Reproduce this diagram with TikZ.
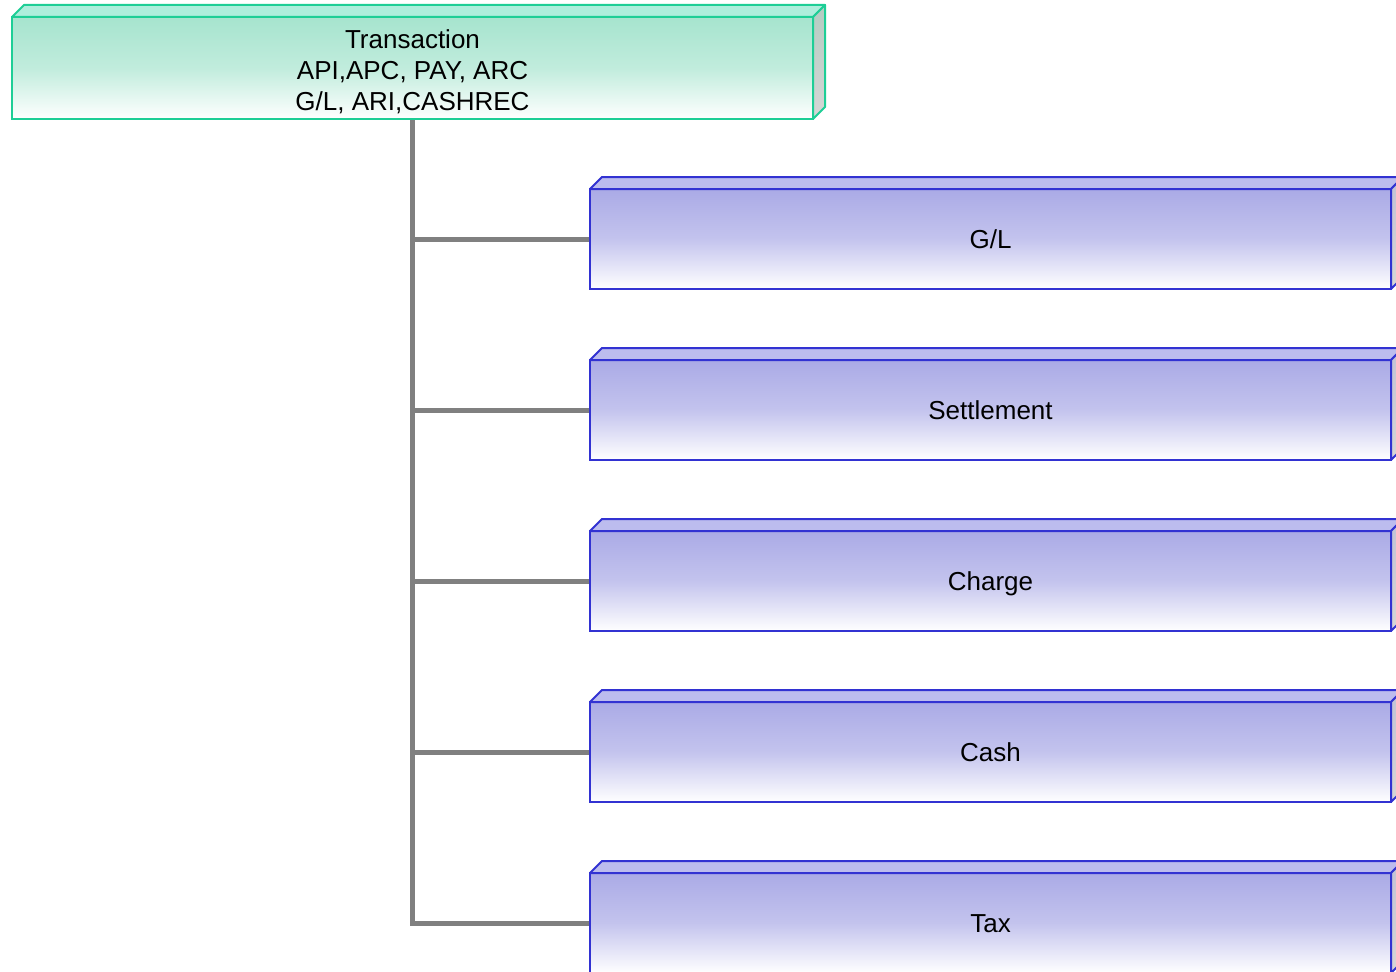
\documentclass[tikz,border=0pt]{standalone}
\usepackage{fontspec}
\setmainfont{Liberation Sans}
\usetikzlibrary{backgrounds}

\definecolor{mintline}{RGB}{30,206,150}
\definecolor{mintfront}{RGB}{166,228,206}
\definecolor{minttop}{RGB}{174,238,220}
\definecolor{mintside}{RGB}{180,204,194}
\definecolor{blueline}{RGB}{50,50,210}
\definecolor{bluefront}{RGB}{170,170,230}
\definecolor{bluetop}{RGB}{188,188,238}
\definecolor{blueside}{RGB}{194,194,214}
\definecolor{sidegray}{RGB}{214,214,214}
\definecolor{connector}{RGB}{128,128,128}

% top and right faces of a raised box, drawn behind-right of its front node
\newcommand\drawcubefaces[4]{%
  \filldraw[draw=#2, fill=#3, line width=2pt, line join=round]
    (#1.north west) -- ++(12,-12) -- ([shift={(12,-12)}]#1.north east)
    -- (#1.north east) -- cycle;
  \shade[top color=#4, bottom color=sidegray]
    (#1.north east) -- ++(12,-12) -- ([shift={(12,-12)}]#1.south east)
    -- (#1.south east) -- cycle;
  \draw[draw=#2, line width=2pt, line join=round]
    (#1.north east) -- ++(12,-12) -- ([shift={(12,-12)}]#1.south east)
    -- (#1.south east) -- cycle;
}

\begin{document}
\begin{tikzpicture}[x=1pt, y=-1pt,
  front/.style={rectangle, inner sep=0pt, outer sep=0pt, line width=2pt,
    minimum width=801pt, align=center,
    font=\fontsize{26}{31}\selectfont},
  rootbox/.style={front, draw=mintline, minimum height=102pt,
    top color=mintfront, bottom color=white, middle color=mintfront!70!white},
  leafbox/.style={front, draw=blueline, minimum height=100pt,
    text height=19.5pt, text depth=0pt,
    top color=bluefront, bottom color=white, middle color=bluefront!70!white},
  conn/.style={draw=connector, line width=5pt, line join=miter}]

  \useasboundingbox (0,0) rectangle (1396,971);
  \clip (0,0) rectangle (1396,971);

  \node[rootbox] (root) at (412.5,68)
    {\rule{0pt}{26pt}Transaction\\API,APC, PAY, ARC\\G/L, ARI,CASHREC};
  \drawcubefaces{root}{mintline}{minttop}{mintside}

  \node[leafbox] (gl)     at (990.5,239) {G/L};
  \node[leafbox] (settle) at (990.5,410) {Settlement};
  \node[leafbox] (charge) at (990.5,581) {Charge};
  \node[leafbox] (cash)   at (990.5,752) {Cash};
  \node[leafbox] (tax)    at (990.5,923) {Tax};
  \foreach \b in {gl,settle,charge,cash,tax}
    {\drawcubefaces{\b}{blueline}{bluetop}{blueside}}

  \begin{pgfonlayer}{background}
    \draw[conn] (root.south) -- (root.south |- tax.west) -- (tax.west);
    \foreach \b in {gl,settle,charge,cash}
      {\draw[conn] (root.south |- \b.west) -- (\b.west);}
  \end{pgfonlayer}
\end{tikzpicture}
\end{document}
